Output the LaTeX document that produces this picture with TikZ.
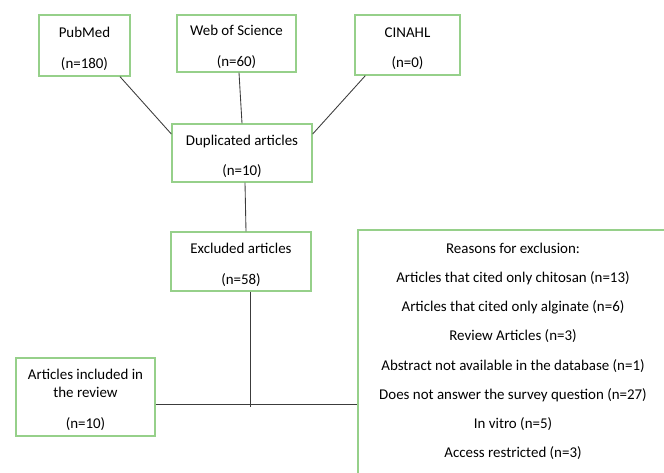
\documentclass[tikz,border=0pt]{standalone}
\usepackage{fontspec}
\setmainfont{Carlito}
\definecolor{boxgreen}{RGB}{150,208,138}
\definecolor{linegray}{RGB}{60,60,60}
\newcommand{\topgap}[1][13pt]{\rule{0pt}{#1}}
\tikzset{
  flowbox/.style={draw=boxgreen, line width=1pt, align=center, inner sep=0pt,
    font=\fontsize{11.2}{23}\selectfont},
  link/.style={draw=linegray, line width=0.65pt}
}
\begin{document}
\begin{tikzpicture}[x=0.75pt, y=-0.75pt]
  \useasboundingbox (0,0) rectangle (664,472);
  \clip (0,0) rectangle (664,472);
  % databases
  \node[flowbox, minimum width=91*0.75pt, minimum height=61*0.75pt] (pubmed) at (84.5,45.5) {\topgap PubMed\\(n=180)};
  \node[flowbox, minimum width=119*0.75pt, minimum height=57*0.75pt] (wos) at (236.5,43.5) {\topgap Web of Science\\(n=60)};
  \node[flowbox, minimum width=105*0.75pt, minimum height=60*0.75pt] (cinahl) at (407.5,45) {\topgap CINAHL\\(n=0)};
  % screening
  \node[flowbox, minimum width=140*0.75pt, minimum height=58*0.75pt] (dup) at (242,153) {\topgap Duplicated articles\\(n=10)};
  \node[flowbox, minimum width=140*0.75pt, minimum height=59*0.75pt] (excl) at (241,261.5) {\topgap Excluded articles\\(n=58)};
  \node[flowbox, minimum width=139*0.75pt, minimum height=78*0.75pt] (incl) at (85.5,397) {\topgap[12pt]Articles included in\\[-9pt]the review\\(n=10)};
  \node[flowbox, minimum width=310*0.75pt, minimum height=246*0.75pt, font=\fontsize{11.2}{21.9}\selectfont] (reasons) at (513,353) {Reasons for exclusion:\\
    Articles that cited only chitosan (n=13)\\
    Articles that cited only alginate (n=6)\\
    Review Articles (n=3)\\
    Abstract not available in the database (n=1)\\
    Does not answer the survey question (n=27)\\
    In vitro (n=5)\\
    Access restricted (n=3)\rule[-4pt]{0pt}{4pt}};
  % connectors
  \draw[link] ([xshift=35.5*0.75pt]pubmed.south) -- ([yshift=19*0.75pt]dup.west);
  \draw[link] ([xshift=2.5*0.75pt]wos.south) -- (dup.north);
  \draw[link] ([xshift=11*0.75pt]cinahl.south west) -- ([yshift=19*0.75pt]dup.east);
  \draw[link] ([xshift=3*0.75pt]dup.south) -- ([xshift=5*0.75pt]excl.north);
  \coordinate (junc) at (250,404);
  \coordinate (vend) at (250,407);
  \draw[link] (excl.south -| junc) -- (vend);
  \draw[link] (incl.east |- junc) -- (reasons.west |- junc);
\end{tikzpicture}
\end{document}
